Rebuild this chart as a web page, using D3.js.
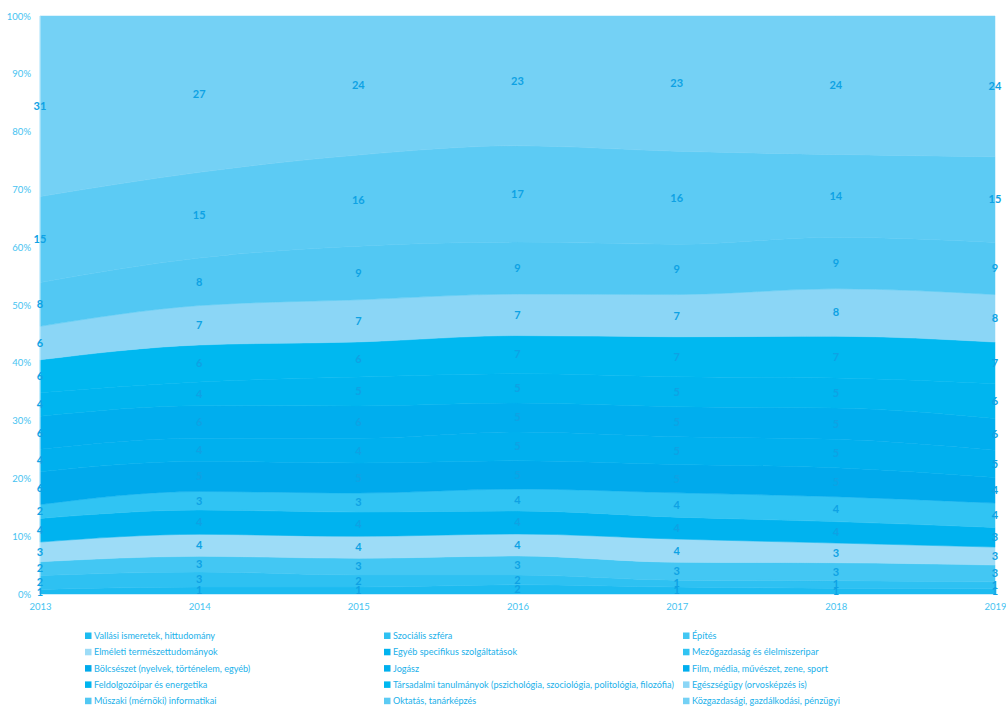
<!DOCTYPE html>
<html>
<head>
<meta charset="utf-8">
<script src="https://cdn.jsdelivr.net/npm/d3@7"></script>
<style>
  body { margin: 0; background: #fff; }
  text { font-family: Lato, 'Noto Sans', sans-serif; }
</style>
</head>
<body>
<svg id="chart" width="1006" height="707"></svg>
<script>
const years = ['2013', '2014', '2015', '2016', '2017', '2018', '2019'];
const yTicks = [0, 0.1, 0.2, 0.3, 0.4, 0.5, 0.6, 0.7, 0.8, 0.9, 1];

const seriesNames = [
    'Vallási ismeretek, hittudomány',
    'Szociális szféra',
    'Építés',
    'Elméleti természettudományok',
    'Egyéb specifikus szolgáltatások',
    'Mezőgazdaság és élelmiszeripar',
    'Bölcsészet (nyelvek, történelem, egyéb)',
    'Jogász',
    'Film, média, művészet, zene, sport',
    'Feldolgozóipar és energetika',
    'Társadalmi tanulmányok (pszichológia, szociológia, politológia, filozófia)',
    'Egészségügy (orvosképzés is)',
    'Műszaki (mérnöki) informatikai',
    'Oktatás, tanárképzés',
    'Közgazdasági, gazdálkodási, pénzügyi'
];

// percentages per year, bottom layer first
const vallasi      = [0.8, 1.2, 1.2, 1.6, 1.2, 1.0, 0.9];
const szocialis    = [2.4, 2.6, 2.1, 1.7, 1.2, 1.3, 1.2];
const epites       = [2.4, 2.7, 2.9, 3.3, 3.1, 3.1, 2.9];
const elmeleti     = [3.4, 3.8, 3.8, 3.8, 4.0, 3.4, 3.1];
const egyeb        = [4.1, 4.2, 4.2, 4.0, 3.8, 3.7, 3.4];
const mezogazdasag = [2.4, 3.2, 3.3, 3.8, 4.2, 4.3, 4.2];
const bolcseszet   = [5.7, 5.2, 5.2, 4.9, 4.9, 5.0, 4.4];
const jogasz       = [3.9, 4.0, 4.3, 5.0, 4.8, 4.9, 4.7];
const film         = [5.7, 5.6, 5.6, 5.0, 5.2, 5.4, 5.5];
const feldolgozo   = [4.1, 4.1, 5.0, 5.1, 5.2, 5.2, 6.0];
const tarsadalmi   = [5.7, 6.4, 6.1, 6.6, 6.9, 7.2, 7.2];
const egeszsegugy  = [5.8, 6.8, 7.3, 7.2, 7.3, 8.2, 8.2];
const muszaki      = [7.6, 8.2, 9.3, 9.0, 8.7, 8.9, 9.0];
const oktatas      = [14.9, 14.8, 15.8, 16.7, 16.1, 14.3, 14.8];
const kozgazdasagi = [31.3, 27.0, 24.1, 22.5, 23.4, 23.9, 24.3];

const seriesValues = [vallasi, szocialis, epites, elmeleti, egyeb, mezogazdasag, bolcseszet,
    jogasz, film, feldolgozo, tarsadalmi, egeszsegugy, muszaki, oktatas, kozgazdasagi];

const colors = ['#1cbbf0', '#2ec1f2', '#43c7f3', '#9ddcf7', '#00b3ef', '#30c4f3', '#00aaec',
    '#00b0ee', '#00aeee', '#00b5ef', '#00b8f0', '#8bd6f6', '#52c8f3', '#5ccbf4', '#74d1f5'];

const width = 1006;
const margin = { top: 16, left: 40, right: 11, bottom: 113 };
const plotBottom = 594;

const svg = d3.select('#chart');

const rows = years.map((y, i) => {
    const row = { year: y };
    seriesNames.forEach((name, k) => { row[name] = seriesValues[k][i]; });
    return row;
});

const stack = d3.stack()
    .keys(seriesNames)
    .offset(d3.stackOffsetExpand);
const layers = stack(rows);

const xScale = d3.scalePoint()
    .domain(years)
    .range([margin.left, width - margin.right]);
const yScale = d3.scaleLinear()
    .domain([0, 1])
    .range([plotBottom, margin.top]);

const area = d3.area()
    .x((d) => xScale(d.data.year))
    .y0((d) => yScale(d[0]))
    .y1((d) => yScale(d[1]))
    .curve(d3.curveMonotoneX);

svg.append('g')
    .selectAll('path')
    .data(layers)
    .join('path')
    .attr('d', area)
    .attr('fill', (d, i) => colors[i])
    .attr('stroke', (d, i) => colors[i])
    .attr('stroke-width', 0.5);

// axis lines
svg.append('line')
    .attr('x1', margin.left).attr('x2', margin.left)
    .attr('y1', margin.top).attr('y2', plotBottom)
    .attr('stroke', '#c9edfc').attr('stroke-width', 1);
svg.append('line')
    .attr('x1', margin.left).attr('x2', width - margin.right)
    .attr('y1', plotBottom + 0.5).attr('y2', plotBottom + 0.5)
    .attr('stroke', '#c9edfc').attr('stroke-width', 1);

// y axis labels
const yAxis = d3.axisLeft(yScale)
    .tickValues(yTicks)
    .tickFormat(d3.format('.0%'))
    .tickSize(0)
    .tickPadding(9);
const yg = svg.append('g')
    .attr('transform', `translate(${margin.left},0)`)
    .call(yAxis);
yg.select('.domain').remove();
yg.selectAll('text')
    .attr('fill', '#45c3f1')
    .style('font-size', '9.5px');

// x axis labels
const xAxis = d3.axisBottom(xScale).tickSize(0).tickPadding(9);
const xg = svg.append('g')
    .attr('transform', `translate(0,${plotBottom})`)
    .call(xAxis);
xg.select('.domain').remove();
xg.selectAll('text')
    .attr('fill', '#45c3f1')
    .style('font-size', '9.5px');

// data labels
layers.forEach((layer, i) => {
    svg.append('g')
        .selectAll('text')
        .data(layer)
        .join('text')
        .attr('x', (d) => xScale(d.data.year))
        .attr('y', (d) => yScale((d[0] + d[1]) / 2))
        .attr('dy', '0.35em')
        .attr('text-anchor', 'middle')
        .attr('fill', '#0ea2e4')
        .style('font-size', '11px')
        .style('font-weight', 'bold')
        .text((d) => Math.round(seriesValues[i][years.indexOf(d.data.year)]));
});

// legend
const legendCols = [85, 384, 683];
const legendTop = 636;
const legendRow = 16.3;
const legend = svg.append('g')
    .selectAll('g')
    .data(seriesNames)
    .join('g')
    .attr('transform', (d, i) => `translate(${legendCols[i % 3]},${legendTop + Math.floor(i / 3) * legendRow})`);
legend.append('rect')
    .attr('x', 0).attr('y', -3.5)
    .attr('width', 6.5).attr('height', 6.5)
    .attr('fill', (d, i) => colors[i]);
legend.append('text')
    .attr('x', 9)
    .attr('dy', '0.33em')
    .attr('fill', '#22b1ea')
    .style('font-size', '9.1px')
    .text((d) => d);
</script>
</body>
</html>
